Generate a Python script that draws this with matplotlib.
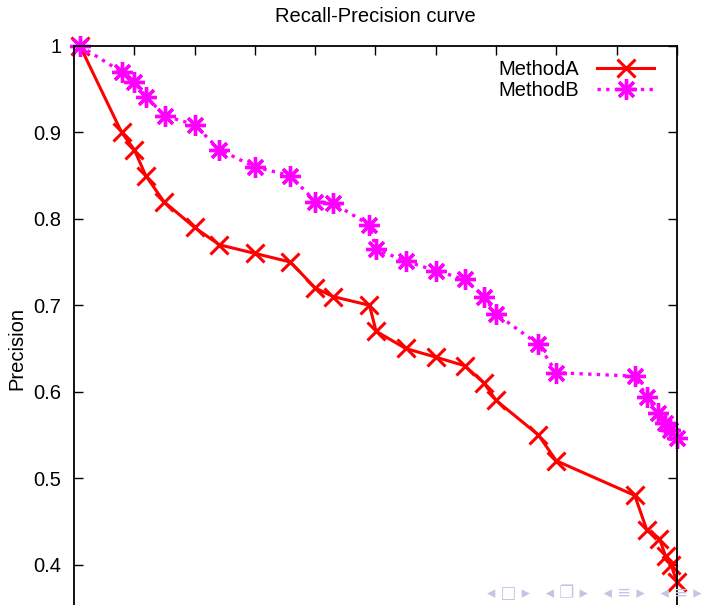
import matplotlib
matplotlib.use("Agg")
import matplotlib.pyplot as plt

plt.rcParams["font.family"] = ["Liberation Sans", "DejaVu Sans"]

# recall / precision values
recall_a = [0.01, 0.079, 0.10, 0.119, 0.149, 0.20, 0.241, 0.30, 0.359, 0.40, 0.43,
            0.49, 0.501, 0.55, 0.60, 0.648, 0.68, 0.70, 0.77, 0.80, 0.93, 0.95,
            0.971, 0.981, 0.99, 1.0]
precision_a = [1.0, 0.90, 0.88, 0.85, 0.82, 0.79, 0.77, 0.76, 0.75, 0.72, 0.71,
               0.70, 0.67, 0.65, 0.64, 0.63, 0.61, 0.59, 0.55, 0.52, 0.48, 0.44,
               0.43, 0.41, 0.40, 0.38]

recall_b = [0.01, 0.079, 0.10, 0.12, 0.151, 0.20, 0.241, 0.30, 0.359, 0.40, 0.43,
            0.49, 0.501, 0.55, 0.60, 0.648, 0.68, 0.70, 0.77, 0.80, 0.93, 0.95,
            0.969, 0.98, 0.988, 1.0]
precision_b = [1.0, 0.97, 0.958, 0.941, 0.919, 0.909, 0.88, 0.86, 0.85, 0.82, 0.818,
               0.793, 0.765, 0.751, 0.74, 0.73, 0.71, 0.69, 0.655, 0.622, 0.618, 0.594,
               0.575, 0.564, 0.556, 0.547]

yticks = [0.4, 0.5, 0.6, 0.7, 0.8, 0.9, 1.0]
ytick_labels = ["0.4", "0.5", "0.6", "0.7", "0.8", "0.9", "1"]

fig = plt.figure(figsize=(7.04, 6.05), dpi=100)
# the reference is cropped: the lower part of the plot runs off the page
ax = fig.add_axes([0.1051, -0.076, 0.8565, 1.0])

ax.plot(recall_a, precision_a, color="#FF0000", lw=2.2, marker="x",
        ms=13, mew=2.2, label="MethodA", clip_on=False)
ax.plot(recall_b, precision_b, color="#FF00FF", lw=2.4, ls=(0, (1, 1.6)),
        marker=(8, 2, 0), ms=15, mew=2.4, label="MethodB", clip_on=False)

ax.set_xlim(0, 1)
ax.set_ylim(0.3, 1.0)
ax.set_xticks([i / 10 for i in range(11)])
ax.set_yticks(yticks)
ax.set_yticklabels(ytick_labels)
ax.tick_params(direction="in", length=6.5, width=1, top=True, right=True,
               labelsize=14.5, pad=9)
ax.tick_params(axis="x", labelbottom=False)
for sp in ax.spines.values():
    sp.set_linewidth(1.3)

ax.set_title("Recall-Precision curve", fontsize=14.5, pad=17)
ax.set_ylabel("Precision", fontsize=14.5, labelpad=5)

ax.legend(loc="upper right", frameon=False, markerfirst=False, fontsize=14.5,
          handlelength=2.8, labelspacing=0.1, borderaxespad=0.3,
          handletextpad=0.9, bbox_to_anchor=(0.985, 1.0))

# beamer navigation symbols in the bottom right corner
fig.text(0.692, 0.02, "\u25c2 \u25a1 \u25b8   \u25c2 \u2750 \u25b8   \u25c2 \u2261 \u25b8   \u25c2 \u2261 \u25b8",
         fontsize=12, color="#c5c5e3", family=["DejaVu Sans"], va="center")

fig.savefig("out.png", dpi=100)
